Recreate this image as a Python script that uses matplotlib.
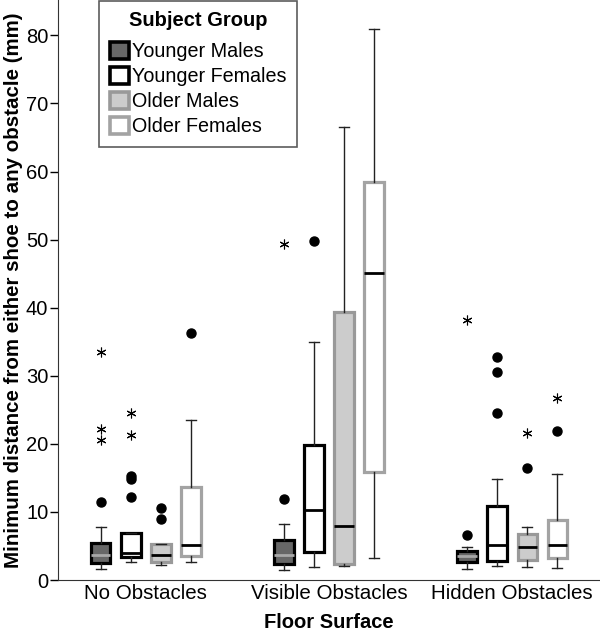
import matplotlib
matplotlib.use("Agg")
import matplotlib.pyplot as plt
from matplotlib.patches import Patch

plt.rcParams["font.family"] = ["Liberation Sans", "DejaVu Sans"]

surfaces = ["No Obstacles", "Visible Obstacles", "Hidden Obstacles"]
groups = ["Younger Males", "Younger Females", "Older Males", "Older Females"]

# five-number summaries per surface, one list per subject group
# order: whisker low, q1, median, q3, whisker high
younger_males = [[1.6, 2.5, 3.7, 5.4, 7.8], [1.5, 2.4, 3.7, 5.9, 8.3], [1.6, 2.7, 3.5, 4.3, 4.9]]
younger_females = [[2.6, 3.4, 4.0, 6.9, 6.9], [1.9, 4.1, 10.3, 19.8, 35.0], [2.1, 2.8, 5.1, 10.9, 14.9]]
older_males = [[2.2, 2.6, 3.7, 5.3, 5.3], [2.0, 2.3, 7.9, 39.3, 66.5], [1.9, 3.0, 4.8, 6.8, 7.8]]
older_females = [[2.6, 3.5, 5.1, 13.7, 23.5], [3.3, 15.8, 45.1, 58.5, 81.0], [1.7, 3.3, 5.1, 8.8, 15.5]]

# outliers (circles) and extremes (stars)
circles_ym = [[11.4], [11.9], [6.6]]
circles_yf = [[12.2, 14.8, 15.3], [49.8], [24.6, 30.5, 32.7]]
circles_om = [[9.0, 10.6], [], [16.4]]
circles_of = [[36.3], [], [21.9]]
stars_ym = [[20.6, 22.2, 33.5], [49.3], [38.2]]
stars_yf = [[21.3, 24.5], [], []]
stars_om = [[], [], [21.6]]
stars_of = [[], [], [26.8]]

summaries = [younger_males, younger_females, older_males, older_females]
circles = [circles_ym, circles_yf, circles_om, circles_of]
stars = [stars_ym, stars_yf, stars_om, stars_of]

faces = ["#676767", "white", "#cccccc", "white"]
edges = ["black", "black", "#999999", "#a3a3a3"]
medians = ["#a8a8a8", "black", "black", "black"]
offsets = [-0.246, -0.082, 0.082, 0.246]

fig = plt.figure(figsize=(6.0, 6.33), dpi=100)
ax = fig.add_axes([0.0967, 0.0837, 0.9033, 0.9163])

for g in range(4):
    stats = []
    pos = []
    for s in range(3):
        lo, q1, med, q3, hi = summaries[g][s]
        stats.append({"whislo": lo, "q1": q1, "med": med, "q3": q3,
                      "whishi": hi, "fliers": []})
        pos.append(s + offsets[g])
    ax.bxp(stats, positions=pos, widths=0.105, patch_artist=True,
           showfliers=False,
           boxprops=dict(facecolor=faces[g], edgecolor=edges[g], linewidth=2.3),
           medianprops=dict(color=medians[g], linewidth=2.0),
           whiskerprops=dict(color="#222222", linewidth=1.0),
           capprops=dict(color="#222222", linewidth=1.0),
           capwidths=0.055, zorder=3)
    for s in range(3):
        x = s + offsets[g]
        if circles[g][s]:
            ax.plot([x] * len(circles[g][s]), circles[g][s], "o", color="black",
                    markersize=6.5, zorder=4)
        if stars[g][s]:
            ax.plot([x] * len(stars[g][s]), stars[g][s], marker=(6, 2, 0),
                    linestyle="none", color="black", markersize=7,
                    markeredgewidth=0.8, zorder=4)

ax.set_xlim(-0.48, 2.48)
ax.set_ylim(0, 85.2)
ax.set_xticks(range(3))
ax.set_xticklabels(surfaces, fontsize=14.8)
ax.tick_params(axis="x", length=0, pad=3)
ax.set_yticks(range(0, 81, 10))
ax.tick_params(axis="y", labelsize=14.5, length=6, width=1, pad=1)
ax.spines["top"].set_visible(False)
ax.spines["right"].set_visible(False)
ax.spines["left"].set_color("#333333")
ax.spines["bottom"].set_color("#333333")

ax.set_ylabel("Minimum distance from either shoe to any obstacle (mm)",
              fontsize=14.8, fontweight="bold", labelpad=2)
ax.set_xlabel("Floor Surface", fontsize=14.5, fontweight="bold", labelpad=7)

handles = [Patch(facecolor=faces[i], edgecolor=edges[i], linewidth=2.6, label=groups[i])
           for i in range(4)]
leg = ax.legend(handles=handles, title="Subject Group", loc="upper left",
                bbox_to_anchor=(0.076, 0.999), borderaxespad=0,
                fontsize=14.2, title_fontsize=14.5,
                frameon=True, fancybox=False, handlelength=0.95, handleheight=0.95,
                handletextpad=0.15, labelspacing=0.3, borderpad=0.55)
leg.get_title().set_fontweight("bold")
leg._legend_box.sep = 8
leg.get_frame().set_edgecolor("#333333")
leg.get_frame().set_linewidth(1.2)

fig.savefig("out.png", dpi=100)
